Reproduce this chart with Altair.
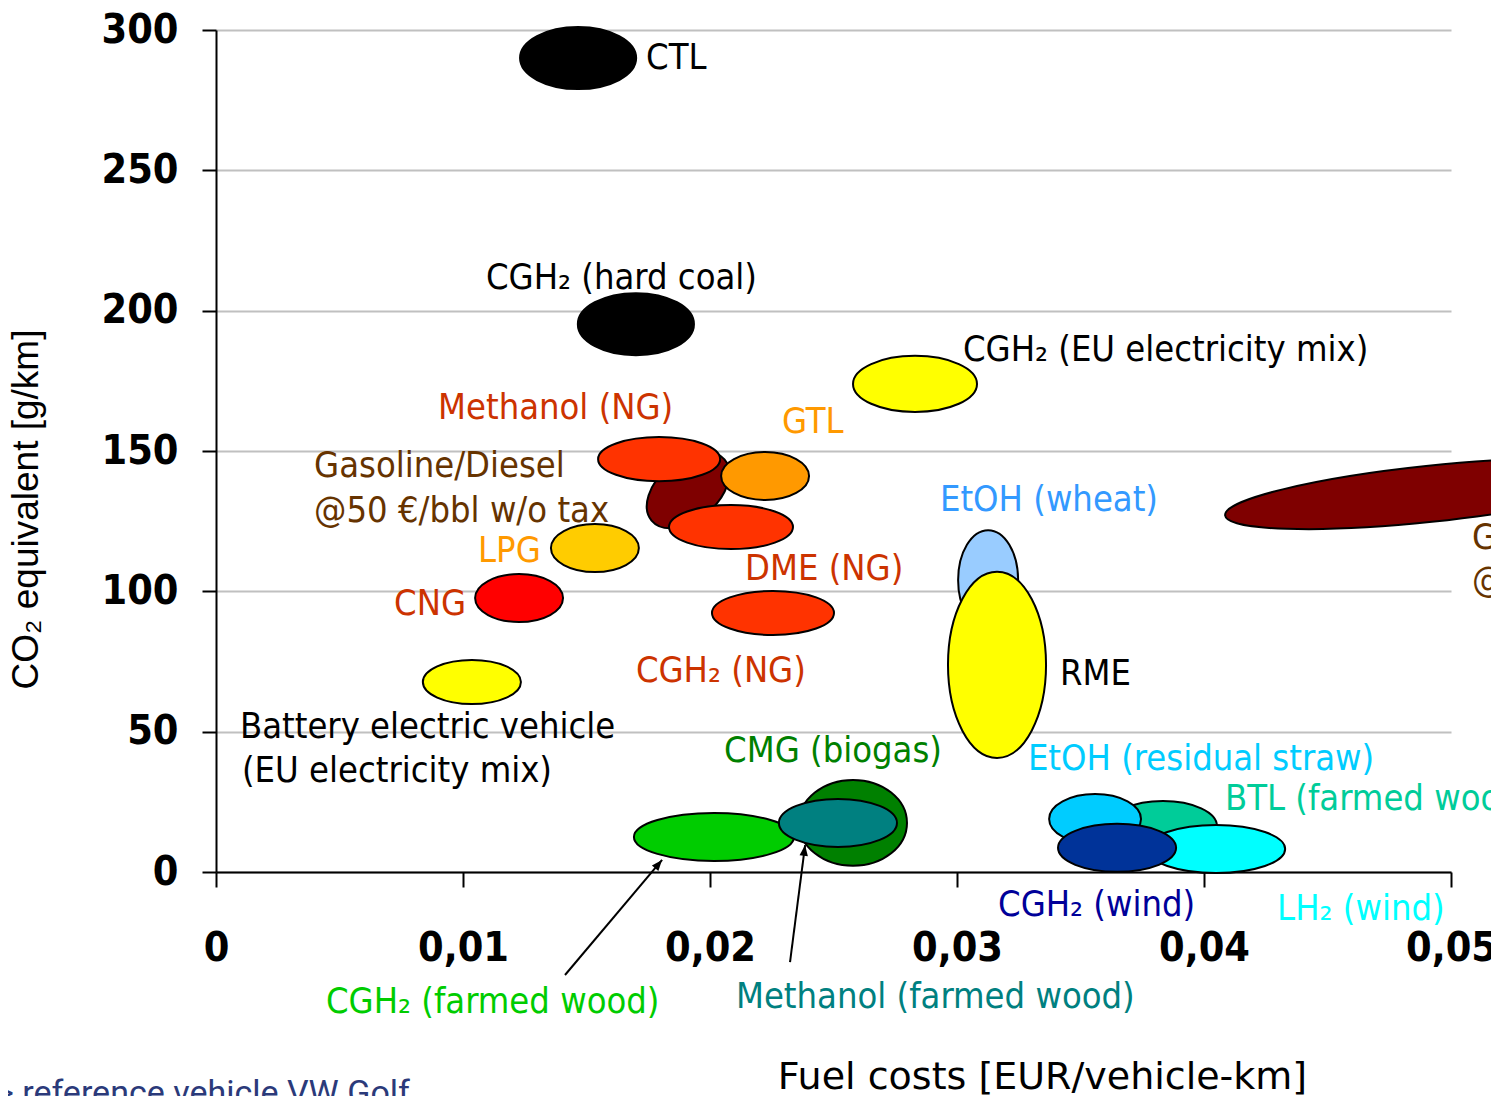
import math
import altair as alt
import pandas as pd

# ---------------- data ----------------
# fuel pathways drawn as ellipses (back to front)
names = [
    "Gasoline/Diesel w/o tax", "Methanol (NG)", "GTL", "DME (NG)", "LPG", "CNG",
    "CGH2 (NG)", "Battery electric vehicle", "CTL", "CGH2 (hard coal)",
    "CGH2 (EU electricity mix)", "EtOH (wheat)", "RME", "CMG (biogas)",
    "CGH2 (farmed wood)", "Methanol (farmed wood)", "BTL (farmed wood)",
    "EtOH (residual straw)", "LH2 (wind)", "CGH2 (wind)", "Gasoline/Diesel with tax",
]
cost_mid = [0.01911, 0.01794, 0.02223, 0.02085, 0.01534, 0.01227,
            0.02255, 0.01036, 0.01466, 0.01700,
            0.02830, 0.03126, 0.03162, 0.02579,
            0.02016, 0.02518, 0.03834,
            0.03559, 0.04049, 0.03648, 0.04911]
co2_mid = [136.1, 147.1, 141.1, 122.9, 115.4, 97.6,
           92.3, 67.7, 290.0, 195.2,
           173.9, 104.0, 73.8, 17.5,
           12.5, 17.5, 16.4,
           18.9, 8.2, 8.6, 134.7]
cost_span = [0.00385, 0.00494, 0.00356, 0.00502, 0.00356, 0.00356,
             0.00494, 0.00397, 0.00470, 0.00470,
             0.00502, 0.00243, 0.00397, 0.00437,
             0.00648, 0.00478, 0.00437,
             0.00372, 0.00559, 0.00478, 0.01660]
co2_span = [21.4, 15.7, 17.1, 15.7, 17.1, 17.1,
            15.7, 15.7, 22.1, 22.1,
            20.0, 35.6, 66.3, 30.6,
            17.1, 17.1, 17.8,
            17.8, 17.1, 17.1, 20.0]
fills = ["#7F0000", "#FF3300", "#FF9900", "#FF3300", "#FFCC00", "#FF0000",
         "#FF3300", "#FFFF00", "#000000", "#000000",
         "#FFFF00", "#99CCFF", "#FFFF00", "#008000",
         "#00CC00", "#008080", "#00CC99",
         "#00CCFF", "#00FFFF", "#003399", "#7F0000"]
tilt = [320, 0, 0, 0, 0, 0, 0, 0, 0, 0, 0, 0, 0, 0, 0, 0, 0, 0, 0, 0, 354]

# labels
label_text = [
    "CTL", "CGH₂ (hard coal)", "CGH₂ (EU electricity mix)", "Methanol (NG)", "GTL",
    "Gasoline/Diesel", "@50 €/bbl w/o tax", "LPG", "CNG", "DME (NG)", "CGH₂ (NG)",
    "EtOH (wheat)", "RME", "Battery electric vehicle", "(EU electricity mix)",
    "CMG (biogas)", "EtOH (residual straw)", "BTL (farmed wood)", "CGH₂ (wind)",
    "LH₂ (wind)", "CGH₂ (farmed wood)", "Methanol (farmed wood)",
    "Gasoline/Diesel", "@50 €/bbl incl. tax",
]
label_cost = [0.01741, 0.01093, 0.03024, 0.00899, 0.02291,
              0.00397, 0.00397, 0.01061, 0.00721, 0.02142, 0.01700,
              0.02931, 0.03417, 0.00097, 0.00105,
              0.02057, 0.03287, 0.04085, 0.03166,
              0.04296, 0.00445, 0.02105,
              0.05085, 0.05085]
label_co2 = [286.1, 207.7, 182.1, 161.4, 156.4,
             140.7, 124.7, 110.5, 91.6, 104.0, 67.7,
             128.6, 66.6, 47.7, 32.1,
             39.2, 36.3, 22.1, -15.7,
             -17.1, -50.2, -48.5,
             115.1, 99.8]
label_colors = ["#000000", "#000000", "#000000", "#CC3300", "#FF9900",
                "#663300", "#663300", "#FF9900", "#CC3300", "#CC3300", "#CC3300",
                "#3399FF", "#000000", "#000000", "#000000",
                "#008000", "#00CCFF", "#00CC99", "#000099",
                "#00FFFF", "#00CC00", "#008080",
                "#663300", "#663300"]

# annotation arrows (tail -> head)
arrow_cost_from = [0.01413, 0.02324]
arrow_co2_from = [-36.7, -32.1]
arrow_cost_to = [0.01806, 0.02385]
arrow_co2_to = [4.3, 9.6]

x_ticks = [0, 0.01, 0.02, 0.03, 0.04, 0.05]
y_ticks = [0, 50, 100, 150, 200, 250, 300]

# ---------------- layout ----------------
W, H = 1235, 842
XMAX, YMAX = 0.05, 300
kx, ky = W / XMAX, H / YMAX

TICKFONT = "DejaVu Sans Condensed"
TEXTFONT = "DejaVu Sans Condensed"

rows = []
for n, cx, cy, sx, sy, f, a in zip(names, cost_mid, co2_mid, cost_span, co2_span, fills, tilt):
    wpx, hpx = sx * kx, sy * ky
    r = hpx / wpx
    path = f"M-1,0A1,{r:.4f},0,1,1,1,0A1,{r:.4f},0,1,1,-1,0Z"
    rows.append(dict(name=n, x=cx, y=cy, fill=f, shape=path, size=wpx * wpx, angle=a, order=len(rows)))
ell = pd.DataFrame(rows)

labels = pd.DataFrame(dict(x=label_cost, y=label_co2, text=label_text, color=label_colors))

arrows = pd.DataFrame(dict(x=arrow_cost_from, y=arrow_co2_from, x2=arrow_cost_to, y2=arrow_co2_to))
arrows["angle"] = [
    (math.degrees(math.atan2((x2 - x1) * kx, (y2 - y1) * ky)) + 360) % 360
    for x1, y1, x2, y2 in zip(arrows.x, arrows.y, arrows.x2, arrows.y2)
]

x_axis = alt.Axis(
    values=x_ticks,
    labelExpr="datum.value == 0 ? '0' : replace(format(datum.value, '.2f'), '.', ',')",
    labelFont=TICKFONT, labelFontSize=41, labelFontWeight="bold", labelColor="black",
    labelBaseline="alphabetic", labelPadding=73, labelOverlap=False, labelFlush=False,
    tickSize=15, tickWidth=2, tickColor="black",
    domainColor="black", domainWidth=2, grid=False,
    title="Fuel costs [EUR/vehicle-km]", titleFont="DejaVu Sans", titleFontSize=38,
    titleFontWeight="normal", titleColor="black", titleX=826, titleY=216,
    titleAlign="center", titleBaseline="alphabetic",
)
y_axis = alt.Axis(
    values=y_ticks, format="d",
    labelFont=TICKFONT, labelFontSize=41, labelFontWeight="bold", labelColor="black",
    labelPadding=24, labelOverlap=False, labelFlush=False,
    tickSize=14, tickWidth=2, tickColor="black",
    domainColor="black", domainWidth=2,
    grid=True, gridColor="#C0C0C0", gridWidth=2,
    title="CO₂ equivalent [g/km]", titleFont="Liberation Sans, Arial", titleFontSize=37,
    titleFontWeight="normal", titleColor="black", titleAngle=270,
    titleX=-179, titleY=479, titleAlign="center", titleBaseline="alphabetic",
)

xs = alt.Scale(domain=[0, XMAX], nice=False, zero=False)
ys = alt.Scale(domain=[0, YMAX], nice=False, zero=False)

ellipses = alt.Chart(ell).mark_point(filled=True, stroke="black", strokeWidth=2, opacity=1, fillOpacity=1).encode(
    x=alt.X("x:Q", scale=xs, axis=x_axis),
    y=alt.Y("y:Q", scale=ys, axis=y_axis),
    fill=alt.Fill("fill:N", scale=None),
    shape=alt.Shape("shape:N", scale=None),
    size=alt.Size("size:Q", scale=None),
    angle=alt.Angle("angle:Q", scale=None),
    order=alt.Order("order:Q"),
)

arrow_lines = alt.Chart(arrows).mark_rule(color="black", strokeWidth=2).encode(
    x=alt.X("x:Q", scale=xs), y=alt.Y("y:Q", scale=ys), x2="x2:Q", y2="y2:Q"
)
arrow_heads = alt.Chart(arrows).mark_point(
    shape="M0,0L-0.7,1.8L0.7,1.8Z", filled=True, color="black", size=144, opacity=1
).encode(
    x=alt.X("x2:Q", scale=xs), y=alt.Y("y2:Q", scale=ys),
    angle=alt.Angle("angle:Q", scale=None),
)

texts = alt.Chart(labels).mark_text(
    align="left", baseline="alphabetic", font=TEXTFONT, fontSize=36
).encode(
    x=alt.X("x:Q", scale=xs), y=alt.Y("y:Q", scale=ys),
    text="text:N", color=alt.Color("color:N", scale=None),
)

note = alt.Chart(pd.DataFrame({"t": ["> reference vehicle VW Golf"]})).mark_text(
    align="left", baseline="alphabetic", font="Roboto", fontSize=34, color="#2B3A7A"
).encode(x=alt.value(-220), y=alt.value(1074), text="t:N")

chart = alt.layer(ellipses, arrow_lines, arrow_heads, texts, note).properties(
    width=W, height=H,
    autosize=alt.AutoSizeParams(type="none"),
    padding={"left": 208, "top": 22, "right": 40, "bottom": 224},
    background="white",
).configure_view(stroke=None)

chart.save("out.html", embed_options={"renderer": "svg", "actions": False})
